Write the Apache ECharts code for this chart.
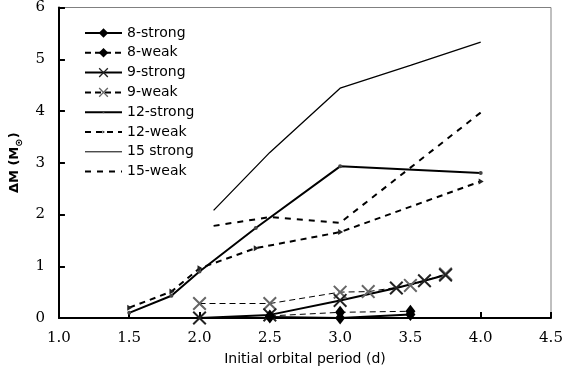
<!DOCTYPE html>
<html>
<head>
<meta charset="utf-8">
<script src="https://cdn.jsdelivr.net/npm/echarts@6/dist/echarts.min.js"></script>
<style>
  html, body { margin: 0; padding: 0; background: #fff; }
  #chart { width: 566px; height: 374px; }
</style>
</head>
<body>
<div id="chart"></div>
<script>
// Periods (d) and mass gain (Msun)
const p8 = [2.5, 3.0, 3.5];
const m8strong = [0.02, 0.0, 0.07];
const m8weak = [0.04, 0.11, 0.13];

const p9strong = [2.0, 2.5, 3.0, 3.4, 3.6, 3.75];
const m9strong = [0.0, 0.06, 0.34, 0.58, 0.72, 0.83];
const p9weak = [2.0, 2.5, 3.0, 3.2, 3.5, 3.75];
const m9weak = [0.28, 0.28, 0.5, 0.51, 0.63, 0.85];

const p12 = [1.5, 1.8, 2.0, 2.4, 3.0, 4.0];
const m12strong = [0.1, 0.43, 0.9, 1.74, 2.93, 2.8];
const m12weak = [0.2, 0.51, 0.96, 1.35, 1.66, 2.64];

const p15strong = [2.1, 2.5, 3.0, 3.5, 4.0];
const m15strong = [2.08, 3.2, 4.44, 4.88, 5.33];
const p15weak = [2.1, 2.5, 3.0, 4.0];
const m15weak = [1.78, 1.95, 1.84, 3.97];

const xTicks = [1.0, 1.5, 2.0, 2.5, 3.0, 3.5, 4.0, 4.5];

const pairs = (xs, ys) => xs.map((x, i) => [x, ys[i]]);

// filled X shape for the 9 Msun runs
const cross = 'path://M0,1L1,0L5,4L9,0L10,1L6,5L10,9L9,10L5,6L1,10L0,9L4,5Z';
// small dot / small triangle inside a larger empty box (keeps legend marks tiny)
const dot = 'path://M0,0L0,0M20,20L20,20M8,10A2,2 0 1,0 12,10A2,2 0 1,0 8,10Z';
const tri = 'path://M0,0L0,0M20,20L20,20M8,7L13,10L8,13Z';

function line(name, data, opts) {
    return Object.assign({
        name: name,
        type: 'line',
        data: data,
        symbol: 'none',
        lineStyle: { color: '#000', width: 2, type: 'solid' },
        itemStyle: { color: '#000' },
        emphasis: { disabled: true },
        animation: false
    }, opts);
}

const chart = echarts.init(document.getElementById('chart'));

chart.setOption({
    backgroundColor: '#fff',
    grid: {
        left: 52, right: 15, top: 7, bottom: 56,
        show: true, borderColor: '#808080', borderWidth: 1
    },
    legend: {
        orient: 'vertical',
        left: 79, top: 21,
        itemWidth: 37, itemHeight: 12, itemGap: 5.8,
        textStyle: { fontFamily: 'DejaVu Sans', fontSize: 14, color: '#000' },
        data: [
            '8-strong', '8-weak', '9-strong', '9-weak', '12-strong', '12-weak',
            { name: '15 strong', itemStyle: { opacity: 0 }, lineStyle: { width: 1 } },
            { name: '15-weak', itemStyle: { opacity: 0 } }
        ]
    },
    xAxis: {
        type: 'value',
        min: 1, max: 4.5, interval: 0.5,
        name: 'Initial orbital period (d)',
        nameLocation: 'middle', nameGap: 34,
        nameTextStyle: { fontFamily: 'DejaVu Sans', fontSize: 14, color: '#000' },
        axisLine: { lineStyle: { color: '#000', width: 2 } },
        axisTick: { inside: true, length: 6, lineStyle: { color: '#000', width: 2 } },
        axisLabel: {
            margin: 13, color: '#000', fontFamily: 'DejaVu Serif', fontSize: 15,
            formatter: v => xTicks.includes(v) ? v.toFixed(1) : ''
        },
        splitLine: { show: false }
    },
    yAxis: {
        type: 'value',
        min: 0, max: 6, interval: 1,
        name: '{a|ΔM (M}{b|⊙}{a|)}',
        nameLocation: 'middle', nameGap: 27,
        nameTextStyle: {
            rich: {
                a: { fontFamily: 'DejaVu Sans', fontWeight: 'bold', fontSize: 13, color: '#000', lineHeight: 20, verticalAlign: 'middle' },
                b: { fontFamily: 'DejaVu Sans', fontWeight: 'bold', fontSize: 10, color: '#000', lineHeight: 20, verticalAlign: 'bottom' }
            }
        },
        axisLine: { show: true, lineStyle: { color: '#000', width: 2 } },
        axisTick: { show: true, inside: true, length: 6, lineStyle: { color: '#000', width: 2 } },
        axisLabel: { margin: 14, color: '#000', fontFamily: 'DejaVu Serif', fontSize: 15 },
        splitLine: { show: false }
    },
    series: [
        line('15 strong', pairs(p15strong, m15strong), {
            lineStyle: { color: '#000', width: 1.3 }
        }),
        line('15-weak', pairs(p15weak, m15weak), {
            lineStyle: { color: '#000', width: 2, type: [6, 6] }
        }),
        line('12-strong', pairs(p12, m12strong), {
            symbol: dot, symbolSize: 20,
            itemStyle: { color: '#444' },
            lineStyle: { color: '#000', width: 2 }
        }),
        line('12-weak', pairs(p12, m12weak), {
            symbol: tri, symbolSize: 20,
            itemStyle: { color: '#222' },
            lineStyle: { color: '#000', width: 2, type: [6, 5] }
        }),
        line('9-weak', pairs(p9weak, m9weak), {
            symbol: cross, symbolSize: 14,
            itemStyle: { color: '#666' },
            lineStyle: { color: '#000', width: 1, type: [6, 4] }
        }),
        line('9-strong', pairs(p9strong, m9strong), {
            symbol: cross, symbolSize: 14,
            itemStyle: { color: '#222' },
            lineStyle: { color: '#000', width: 2 }
        }),
        line('8-weak', pairs(p8, m8weak), {
            symbol: 'diamond', symbolSize: [10, 13],
            lineStyle: { color: '#000', width: 1, type: [6, 4] }
        }),
        line('8-strong', pairs(p8, m8strong), {
            symbol: 'diamond', symbolSize: [10, 13],
            lineStyle: { color: '#000', width: 2 }
        })
    ]
});

window.addEventListener('resize', () => {
    chart.resize();
});
</script>
</body>
</html>
